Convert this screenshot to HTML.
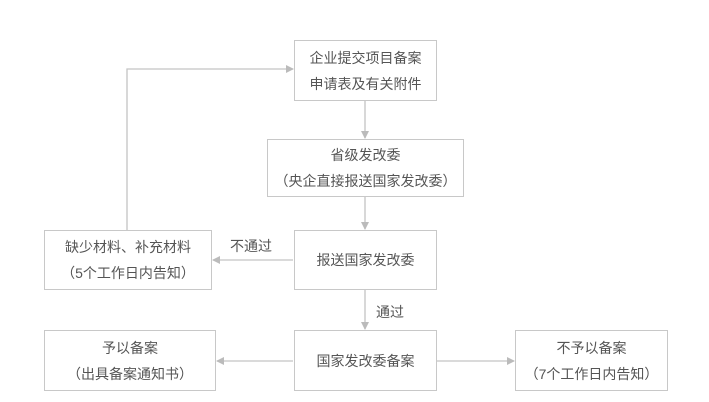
<!DOCTYPE html>
<html><head><meta charset="utf-8"><style>
body{margin:0;background:#fff;width:709px;height:402px;position:relative;overflow:hidden;font-family:"Liberation Sans","Noto Sans CJK SC",sans-serif;color:#555;font-size:14px}
.b{position:absolute;border:1px solid #c8c8c8;box-sizing:border-box;display:flex;flex-direction:column;justify-content:center;align-items:center;line-height:26px;text-align:center}
.l{position:absolute;font-size:14px}
</style></head><body>
<svg width="709" height="402" style="position:absolute;left:0;top:0">
<defs><marker id="a" markerWidth="8" markerHeight="8" refX="7" refY="4" orient="auto" markerUnits="userSpaceOnUse"><path d="M0,0 L8,4 L0,8z" fill="#bbb"/></marker></defs>
<g stroke="#c4c4c4" stroke-width="1.3" fill="none">
<line x1="365" y1="101" x2="365" y2="138" marker-end="url(#a)"/>
<line x1="365" y1="197" x2="365" y2="229" marker-end="url(#a)"/>
<line x1="293" y1="260" x2="213" y2="260" marker-end="url(#a)"/>
<polyline points="127,230 127,69 293,69" marker-end="url(#a)"/>
<line x1="365" y1="290" x2="365" y2="329" marker-end="url(#a)"/>
<line x1="293" y1="361" x2="217" y2="361" marker-end="url(#a)"/>
<line x1="437" y1="361" x2="514" y2="361" marker-end="url(#a)"/>
</g></svg>
<div class="b" style="left:294px;top:40px;width:143px;height:61px">企业提交项目备案<br>申请表及有关附件</div>
<div class="b" style="left:267px;top:139px;width:197px;height:58px">省级发改委<br>（央企直接报送国家发改委）</div>
<div class="b" style="left:294px;top:230px;width:143px;height:60px">报送国家发改委</div>
<div class="b" style="left:44px;top:230px;width:168px;height:60px">缺少材料、补充材料<br>（5个工作日内告知）</div>
<div class="b" style="left:44px;top:330px;width:172px;height:61px">予以备案<br>（出具备案通知书）</div>
<div class="b" style="left:294px;top:330px;width:143px;height:61px">国家发改委备案</div>
<div class="b" style="left:515px;top:330px;width:153px;height:61px">不予以备案<br>（7个工作日内告知）</div>
<div class="l" style="left:230px;top:236px">不通过</div>
<div class="l" style="left:376px;top:302px">通过</div>
</body></html>
